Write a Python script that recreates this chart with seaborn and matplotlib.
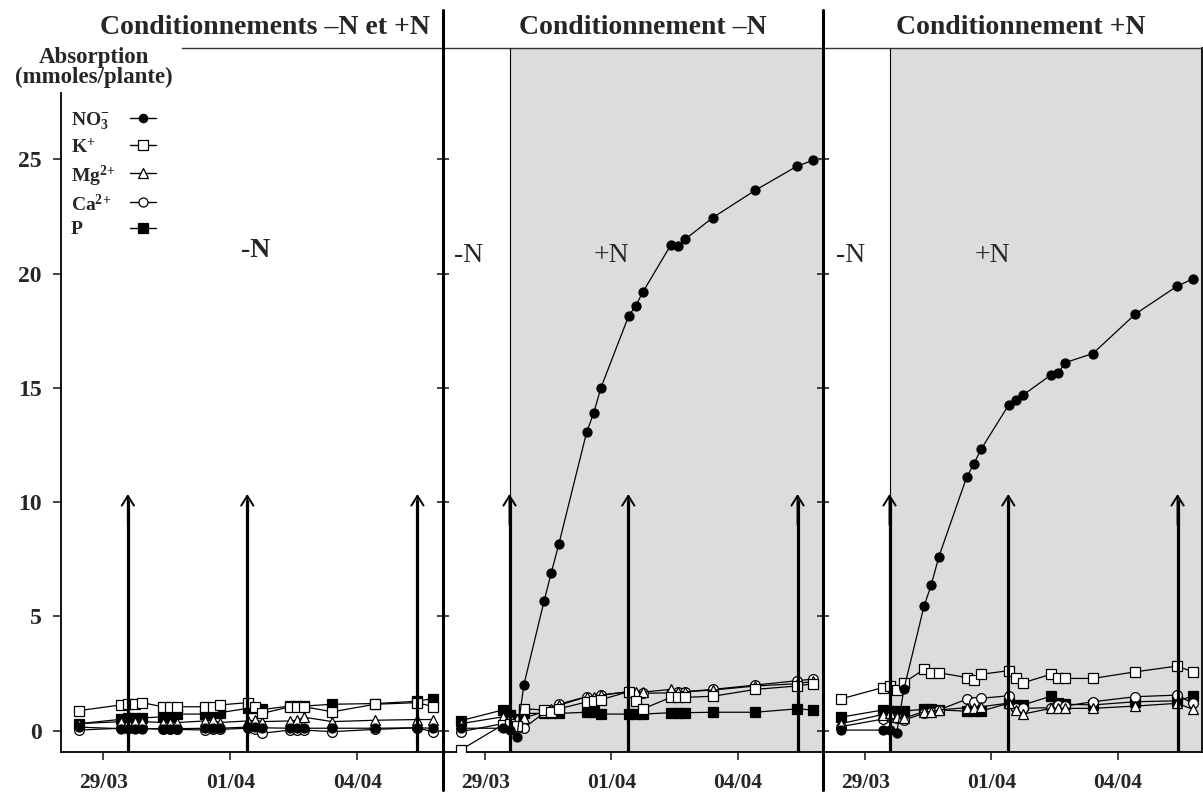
import numpy as np
import pandas as pd
import matplotlib
matplotlib.use('Agg')
import matplotlib.pyplot as plt
import seaborn as sns
from matplotlib.lines import Line2D

# Temps de prelevement (jours depuis le 29/03)
temps = [-0.58, 0.42, 0.58, 0.75, 0.92, 1.4, 1.57, 1.75, 2.41, 2.58, 2.75,
         3.41, 3.58, 3.75, 4.41, 4.58, 4.75, 5.41, 6.42, 7.41, 7.78]

# Panneau 1 : conditionnements -N et +N
no3_1 = [0.15, 0.08, 0.08, 0.08, 0.08, 0.08, 0.08, 0.08, 0.1, 0.1, 0.1,
         0.15, 0.15, 0.12, 0.1, 0.1, 0.1, 0.1, 0.1, 0.12, 0.1]
k_1 = [0.87, 1.12, 1.15, 1.15, 1.22, 1.04, 1.04, 1.04, 1.04, 1.04, 1.12,
       1.22, 1.05, 0.75, 1.04, 1.04, 1.04, 0.82, 1.15, 1.22, 1.05]
mg_1 = [0.3, 0.39, 0.39, 0.39, 0.39, 0.35, 0.35, 0.35, 0.42, 0.45, 0.35,
        0.42, 0.45, 0.39, 0.42, 0.45, 0.58, 0.39, 0.45, 0.48, 0.48]
ca_1 = [0.02, 0.1, 0.1, 0.1, 0.1, 0.05, 0.05, 0.05, 0.02, 0.05, 0.05,
        0.1, 0.05, -0.12, 0.02, 0.02, 0.02, -0.05, 0.05, 0.12, -0.05]
p_1 = [0.3, 0.49, 0.55, 0.55, 0.55, 0.6, 0.65, 0.72, 0.72, 0.78, 0.78,
       0.97, 0.97, 0.92, 1.07, 1.07, 1.07, 1.15, 1.18, 1.28, 1.4]

# Panneau 2 : conditionnement -N
no3_2 = [0.1, 0.1, 0.03, -0.3, 2.0, 5.66, 6.9, 8.15, 13.05, 13.9, 15.0,
         18.15, 18.6, 19.2, 21.25, 21.2, 21.5, 22.45, 23.65, 24.7, 24.95]
k_2 = [-0.85, 0.25, 0.3, 0.2, 0.95, 0.9, 0.8, 0.95, 1.25, 1.3, 1.35,
       1.7, 1.3, 0.95, 1.45, 1.45, 1.45, 1.5, 1.8, 1.95, 2.05]
mg_2 = [0.3, 0.6, 0.6, 0.5, 0.55, 0.82, 0.92, 1.1, 1.48, 1.48, 1.55,
        1.7, 1.7, 1.68, 1.8, 1.7, 1.7, 1.77, 1.95, 2.05, 2.15]
ca_2 = [-0.05, 0.3, 0.3, 0.1, 0.1, 0.78, 0.9, 1.15, 1.48, 1.33, 1.55,
        1.7, 1.33, 1.63, 1.65, 1.7, 1.7, 1.8, 1.99, 2.18, 2.25]
p_2 = [0.43, 0.9, 0.7, 0.5, 0.75, 0.75, 0.75, 0.75, 0.8, 0.82, 0.72,
       0.72, 0.72, 0.72, 0.78, 0.78, 0.78, 0.8, 0.8, 0.95, 0.9]

# Panneau 3 : conditionnement +N
no3_3 = [0.02, 0.02, 0.02, -0.12, 1.8, 5.45, 6.37, 7.6, 11.08, 11.66, 12.3,
         14.25, 14.46, 14.68, 15.56, 15.63, 16.1, 16.5, 18.23, 19.45, 19.76]
k_3 = [1.38, 1.88, 1.95, 1.77, 2.09, 2.68, 2.53, 2.53, 2.32, 2.21, 2.46,
       2.62, 2.32, 2.09, 2.46, 2.28, 2.28, 2.28, 2.57, 2.82, 2.57]
mg_3 = [0.3, 0.7, 0.75, 0.6, 0.55, 0.82, 0.82, 0.9, 1.0, 1.0, 1.04,
        1.2, 0.9, 0.72, 0.97, 0.97, 0.97, 0.97, 1.07, 1.19, 0.93]
ca_3 = [0.17, 0.5, 0.6, 0.55, 0.46, 0.75, 0.82, 0.9, 1.37, 1.26, 1.41,
        1.52, 0.97, 0.97, 1.0, 1.1, 1.07, 1.26, 1.48, 1.55, 1.19]
p_3 = [0.58, 0.9, 0.85, 0.85, 0.85, 0.93, 0.93, 0.9, 0.85, 0.85, 0.85,
       1.19, 1.12, 1.12, 1.5, 1.2, 1.15, 1.12, 1.26, 1.3, 1.5]

ions = ['NO3', 'K', 'Mg', 'Ca', 'P']
etiquettes = ['NO$_3^{-}$', 'K$^{+}$', 'Mg$^{2\\!+}$', 'Ca$^{2\\!+}$', 'P']
titres = ['Conditionnements \u2013N et +N', 'Conditionnement \u2013N', 'Conditionnement +N']
dates = ['29/03', '01/04', '04/04']
arrivees = [0.58, 3.4, 7.42]   # renouvellements de solution (fleches)

series = {
    1: [no3_1, k_1, mg_1, ca_1, p_1],
    2: [no3_2, k_2, mg_2, ca_2, p_2],
    3: [no3_3, k_3, mg_3, ca_3, p_3],
}
rows = []
for pan, vals in series.items():
    for ion, v in zip(ions, vals):
        for t, a in zip(temps, v):
            rows.append((pan, ion, t, a))
df = pd.DataFrame(rows, columns=['panneau', 'ion', 'temps', 'absorption'])

# style des marqueurs
marqueurs = {'NO3': ('o', 'black', 6.5), 'K': ('s', 'white', 7),
             'Mg': ('^', 'white', 7.5), 'Ca': ('o', 'white', 7), 'P': ('s', 'black', 7)}

sns.set_style('ticks')
plt.rcParams['font.family'] = ['Liberation Serif', 'DejaVu Serif']
plt.rcParams['font.weight'] = 'bold'
plt.rcParams['mathtext.fontset'] = 'custom'
plt.rcParams['mathtext.rm'] = 'Liberation Serif:bold'
plt.rcParams['mathtext.it'] = 'Liberation Serif:bold'
plt.rcParams['mathtext.bf'] = 'Liberation Serif:bold'

W, H = 1203, 795
fig = plt.figure(figsize=(W / 100, H / 100), dpi=100)
bas, haut = 752, 48
lefts = [61, 443, 823]
largeurs = [381, 379, 379]
axes = []
for l, w in zip(lefts, largeurs):
    ax = fig.add_axes([l / W, (H - bas) / H, w / W, (bas - haut) / H])
    axes.append(ax)

ylim = (-0.94, 29.87)
xlim = (-1.0, 8.0)

for i, ax in enumerate(axes):
    pan = i + 1
    ax.set_xlim(*xlim)
    ax.set_ylim(*ylim)
    if pan > 1:
        ax.axvspan(arrivees[0], xlim[1], color='#dcdcdc', zorder=0, lw=0)
        ax.axvline(arrivees[0], color='black', lw=0.8, zorder=1)
    for ion in ['P', 'Ca', 'Mg', 'K', 'NO3']:
        m, fc, ms = marqueurs[ion]
        sub = df[(df.panneau == pan) & (df.ion == ion)]
        sns.lineplot(data=sub, x='temps', y='absorption', ax=ax, color='black',
                     lw=0.9, marker=m, markersize=ms, markerfacecolor=fc,
                     markeredgecolor='black', markeredgewidth=0.9, zorder=3)
    # fleches
    for xa in arrivees:
        ax.vlines(xa, ylim[0], 10.1, color='black', lw=2.3, zorder=4)
        ax.annotate('', xy=(xa, 10.35), xytext=(xa, 9.0),
                    arrowprops=dict(arrowstyle='->,head_length=0.35,head_width=0.22',
                                    lw=1.4, color='black', mutation_scale=20,
                                    shrinkA=0, shrinkB=0), zorder=4)
    ax.set_xlabel('')
    ax.set_ylabel('')
    ax.set_xticks([0, 3, 6])
    ax.set_xticklabels(dates, fontsize=15.5, fontweight='bold')
    ax.set_yticks([0, 5, 10, 15, 20, 25])
    ax.tick_params(axis='x', direction='out', length=6, width=1.2, pad=9)
    for s in ax.spines.values():
        s.set_linewidth(1.3)
        s.set_color('black')
    ax.spines['top'].set_linewidth(1.0)
    ax.spines['top'].set_color('#333333')

ax1, ax2, ax3 = axes
ax1.set_yticklabels(['0', '5', '10', '15', '20', '25'], fontsize=17, fontweight='bold')
ax1.tick_params(axis='y', direction='out', length=6, width=1.2, pad=8)
ax1.spines['right'].set_visible(False)
ax1.spines['top'].set_bounds(1.85, xlim[1])
ax1.spines['left'].set_bounds(ylim[0], 27.9)
for ax in (ax2, ax3):
    ax.tick_params(axis='y', direction='inout', length=8, width=1.2, labelleft=False)
ax2.spines['right'].set_visible(False)

# annotations -N / +N
ax1.text(3.6, 21.0, '-N', fontsize=20, fontweight='bold', ha='center', va='center')
ax2.text(-0.4, 20.8, '-N', fontsize=20, fontweight='normal', ha='center', va='center')
ax2.text(3.0, 20.8, '+N', fontsize=20, fontweight='normal', ha='center', va='center')
ax3.text(-0.35, 20.8, '-N', fontsize=20, fontweight='normal', ha='center', va='center')
ax3.text(3.03, 20.8, '+N', fontsize=20, fontweight='normal', ha='center', va='center')

# legende (texte aligne a gauche, symboles en colonne)
rangs = [118, 145, 173, 202, 228]
for ion, lab, yp in zip(ions, etiquettes, rangs):
    m, fc, ms = marqueurs[ion]
    yf = 1 - yp / H
    fig.text(71 / W, yf, lab, fontsize=14, fontweight='bold', ha='left', va='center_baseline')
    fig.add_artist(Line2D([130 / W, 143 / W, 156 / W], [yf, yf, yf], transform=fig.transFigure,
                          color='black', lw=1.0, marker=m, markevery=[1], markersize=ms - 0.5,
                          markerfacecolor=fc, markeredgecolor='black', markeredgewidth=0.9))

# titres
for txt, xc in zip(titres, [265, 643, 1021]):
    fig.text(xc / W, 1 - 28 / H, txt, fontsize=20, fontweight='bold', ha='center', va='center')
fig.text(94 / W, 1 - 58 / H, 'Absorption', fontsize=16.5, fontweight='bold', ha='center', va='center')
fig.text(94 / W, 1 - 77 / H, '(mmoles/plante)', fontsize=16.5, fontweight='bold', ha='center', va='center')

# separateurs verticaux
for xs in [442.5, 822.5]:
    fig.add_artist(Line2D([xs / W, xs / W], [1 - 10 / H, 1 - 790 / H],
                          transform=fig.transFigure, color='black', lw=2.2))

fig.savefig('out.png', dpi=100)
